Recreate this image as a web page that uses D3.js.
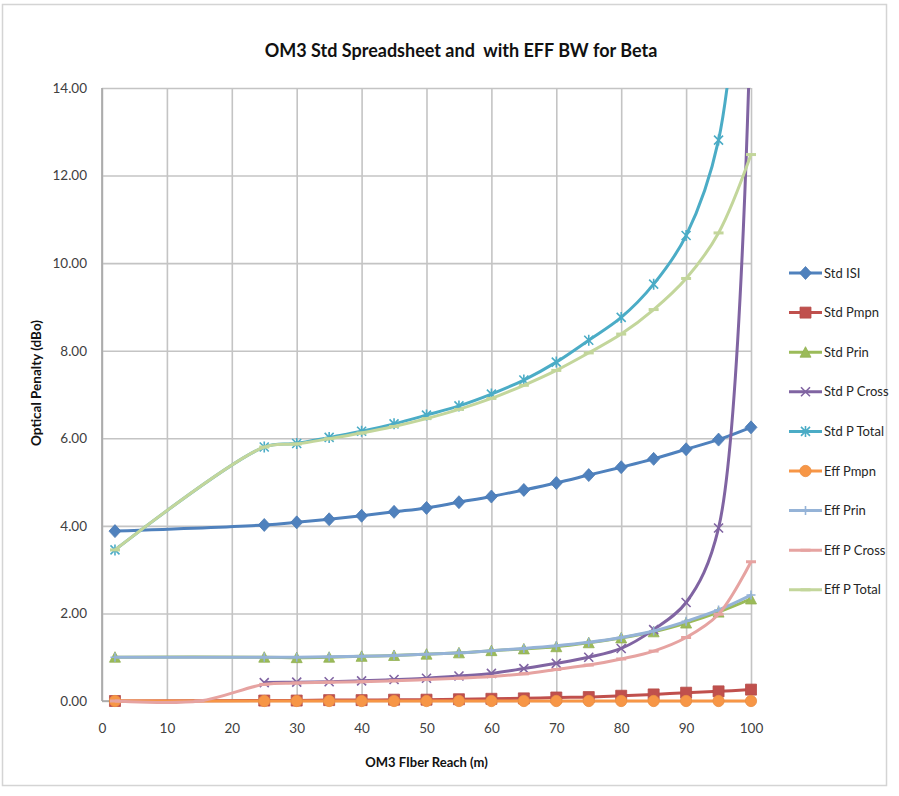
<!DOCTYPE html>
<html>
<head>
<meta charset="utf-8">
<script src="https://cdn.jsdelivr.net/npm/d3@7/dist/d3.min.js"></script>
<style>
  html, body { margin: 0; padding: 0; background: #ffffff; }
  svg { display: block; font-family: Lato, "Open Sans", sans-serif; }
</style>
</head>
<body>
<svg id="chart" width="899" height="796"></svg>
<script>
// Fibre reach (m) shared by most series
const reach = [2, 25, 30, 35, 40, 45, 50, 55, 60, 65, 70, 75, 80, 85, 90, 95, 100];
// Eff P Cross has an extra zero point where it leaves the axis
const reachEffCross = [2, 15, 25, 30, 35, 40, 45, 50, 55, 60, 65, 70, 75, 80, 85, 90, 95, 100];

// Optical penalties (dBo)
const stdISI    = [3.88, 4.02, 4.08, 4.15, 4.23, 4.32, 4.41, 4.54, 4.67, 4.82, 4.98, 5.16, 5.34, 5.53, 5.75, 5.97, 6.25];
const stdPmpn   = [0.00, 0.01, 0.01, 0.02, 0.02, 0.03, 0.03, 0.04, 0.05, 0.06, 0.08, 0.09, 0.12, 0.15, 0.19, 0.22, 0.26];
const stdPrin   = [1.00, 1.00, 0.99, 1.00, 1.02, 1.04, 1.07, 1.10, 1.15, 1.19, 1.24, 1.33, 1.44, 1.58, 1.78, 2.03, 2.33];
const stdPCross = [null, 0.42, 0.43, 0.44, 0.46, 0.49, 0.52, 0.57, 0.63, 0.74, 0.86, 1.00, 1.20, 1.63, 2.25, 3.95, 16.0];
const stdPTotal = [3.45, 5.80, 5.88, 6.02, 6.16, 6.33, 6.53, 6.74, 7.01, 7.33, 7.74, 8.24, 8.76, 9.52, 10.63, 12.81, 20.0];
const effPmpn   = [0.00, 0.00, 0.00, 0.00, 0.00, 0.00, 0.00, 0.00, 0.00, 0.00, 0.00, 0.00, 0.00, 0.00, 0.00, 0.00, 0.00];
const effPrin   = [1.00, 1.00, 1.00, 1.01, 1.02, 1.04, 1.07, 1.10, 1.15, 1.20, 1.26, 1.34, 1.45, 1.60, 1.82, 2.08, 2.42];
const effPCross = [0.00, 0.00, 0.38, 0.41, 0.43, 0.44, 0.46, 0.49, 0.52, 0.56, 0.62, 0.72, 0.82, 0.96, 1.14, 1.45, 1.98, 3.18];
const effPTotal = [3.45, 5.80, 5.87, 5.99, 6.12, 6.27, 6.45, 6.66, 6.91, 7.21, 7.55, 7.95, 8.38, 8.94, 9.65, 10.69, 12.48];

// Axis ticks
const xTicks = [0, 10, 20, 30, 40, 50, 60, 70, 80, 90, 100];
const yTicks = [0, 2, 4, 6, 8, 10, 12, 14];

const seriesNames  = ["Std ISI", "Std Pmpn", "Std Prin", "Std P Cross", "Std P Total",
                      "Eff Pmpn", "Eff Prin", "Eff P Cross", "Eff P Total"];
const seriesX      = [reach, reach, reach, reach, reach, reach, reach, reachEffCross, reach];
const seriesY      = [stdISI, stdPmpn, stdPrin, stdPCross, stdPTotal, effPmpn, effPrin, effPCross, effPTotal];
const seriesColor  = ["#4F81BD", "#C0504D", "#9BBB59", "#8064A2", "#4BACC6",
                      "#F79646", "#95B3D7", "#E6A3A1", "#C3D69B"];
const seriesMarker = ["diamond", "square", "triangle", "x", "star", "circle", "plus", "dash", "dash"];

const svg = d3.select("#chart");
const W = 899, H = 796;
const plot = { left: 102, right: 751, top: 88, bottom: 701 };

// outer chart frame
svg.append("rect")
  .attr("x", 2.5).attr("y", 4.5).attr("width", 884).attr("height", 781)
  .attr("fill", "#ffffff").attr("stroke", "#d4d4d4").attr("stroke-width", 1.5);

const x = d3.scaleLinear().domain([0, 100]).range([plot.left, plot.right]);
const y = d3.scaleLinear().domain([0, 14]).range([plot.bottom, plot.top]);

// Horizontal gridlines + y labels
const yAxis = svg.append("g")
  .attr("transform", `translate(${plot.left},0)`)
  .call(d3.axisLeft(y).tickValues(yTicks)
    .tickSize(-(plot.right - plot.left)).tickPadding(15)
    .tickFormat(d3.format(".2f")));
yAxis.select(".domain").remove();
yAxis.selectAll(".tick line").attr("stroke", "#c4c4c4").attr("stroke-width", 1.6);
yAxis.selectAll(".tick text").attr("fill", "#404040")
  .style("font-size", "13.5px").style("font-family", "Lato, sans-serif");

// Vertical gridlines + x labels
const xAxis = svg.append("g")
  .attr("transform", `translate(0,${plot.bottom})`)
  .call(d3.axisBottom(x).tickValues(xTicks)
    .tickSize(-(plot.bottom - plot.top)).tickPadding(22));
xAxis.select(".domain").remove();
xAxis.selectAll(".tick line").attr("stroke", "#c4c4c4").attr("stroke-width", 1.6);
xAxis.selectAll(".tick text").attr("fill", "#404040")
  .style("font-size", "13.5px").style("font-family", "Lato, sans-serif");

// axis lines
svg.append("line").attr("x1", plot.left).attr("x2", plot.left)
  .attr("y1", plot.top).attr("y2", plot.bottom)
  .attr("stroke", "#a6a6a6").attr("stroke-width", 1.6);
svg.append("line").attr("x1", plot.left).attr("x2", plot.right)
  .attr("y1", plot.bottom).attr("y2", plot.bottom)
  .attr("stroke", "#a6a6a6").attr("stroke-width", 1.6);

// clip: lines leave the plot through the top
svg.append("defs").append("clipPath").attr("id", "plotClip")
  .append("rect").attr("x", 0).attr("y", plot.top)
  .attr("width", W).attr("height", H - plot.top);

function markerPath(type) {
  switch (type) {
    case "diamond":  return "M0,-6.5L6,0L0,6.5L-6,0Z";
    case "square":   return "M-5.5,-5.5H5.5V5.5H-5.5Z";
    case "triangle": return "M0,-5.5L5.5,5L-5.5,5Z";
    case "circle":   return d3.symbol(d3.symbolCircle, 100)();
    case "x":        return "M-4.5,-4.5L4.5,4.5M-4.5,4.5L4.5,-4.5";
    case "star":     return "M-4.5,-4.5L4.5,4.5M-4.5,4.5L4.5,-4.5M0,-5.5L0,5.5";
    case "plus":     return "M-4.5,0H4.5M0,-4.5V4.5";
    case "dash":     return "M-5,0H5";
  }
}
function drawMarker(g, type, color, cx, cy) {
  const filled = ["diamond", "square", "triangle", "circle"].includes(type);
  g.append("path")
    .attr("d", markerPath(type))
    .attr("transform", `translate(${cx},${cy})`)
    .attr("fill", filled ? color : "none")
    .attr("stroke", filled ? d3.color(color).darker(0.15) : color)
    .attr("stroke-width", filled ? 0.8 : (type === "dash" ? 3 : 1.6));
}

const line = d3.line()
  .defined(d => d[1] != null)
  .x(d => x(d[0])).y(d => y(d[1]))
  .curve(d3.curveCatmullRom.alpha(0.5));

const plotG = svg.append("g").attr("clip-path", "url(#plotClip)");

seriesNames.forEach((name, i) => {
  const pts = seriesX[i].map((xv, k) => [xv, seriesY[i][k]]).filter(p => p[1] != null);
  const g = plotG.append("g");
  g.append("path")
    .datum(pts)
    .attr("d", line)
    .attr("fill", "none")
    .attr("stroke", seriesColor[i])
    .attr("stroke-width", 3)
    .attr("stroke-linejoin", "round");
  pts.forEach(p => {
    if (p[1] <= 14) drawMarker(g, seriesMarker[i], seriesColor[i], x(p[0]), y(p[1]));
  });
});

// legend
const legend = svg.append("g");
seriesNames.forEach((name, i) => {
  const ly = 273 + i * 39.6;
  const lg = legend.append("g");
  lg.append("line").attr("x1", 789).attr("x2", 822).attr("y1", ly).attr("y2", ly)
    .attr("stroke", seriesColor[i]).attr("stroke-width", 3);
  drawMarker(lg, seriesMarker[i], seriesColor[i], 805.5, ly);
  lg.append("text").attr("x", 824).attr("y", ly).attr("dy", "0.35em")
    .attr("fill", "#262626").style("font-size", "13px").text(name);
});

// titles
svg.append("text").attr("x", 461).attr("y", 57).attr("text-anchor", "middle")
  .attr("fill", "#111").style("font-size", "18px").style("font-weight", "bold")
  .style("white-space", "pre")
  .text("OM3 Std Spreadsheet and  with EFF BW for Beta");

svg.append("text").attr("x", 426.5).attr("y", 767).attr("text-anchor", "middle")
  .attr("fill", "#111").style("font-size", "13px").style("font-weight", "bold")
  .text("OM3 FIber Reach (m)");

svg.append("text")
  .attr("transform", "translate(41,383) rotate(-90)")
  .attr("text-anchor", "middle")
  .attr("fill", "#111").style("font-size", "13.5px").style("font-weight", "bold")
  .text("Optical Penalty (dBo)");
</script>
</body>
</html>
